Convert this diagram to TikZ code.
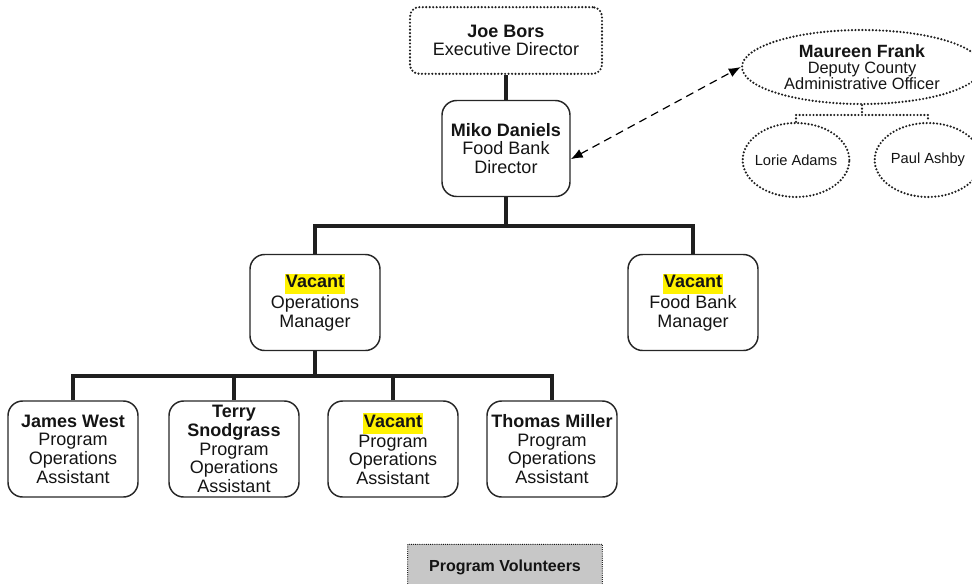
\documentclass[tikz,border=0pt]{standalone}
\usepackage{fontspec}
\setmainfont{Liberation Sans}
\usetikzlibrary{arrows.meta,shapes.geometric}
\newcommand\vacantmark{{\setlength{\fboxsep}{0.6pt}\colorbox{yellow}{\strut\textbf{Vacant}}}}
\begin{document}
\begin{tikzpicture}[x=0.75pt,y=-0.75pt,
  every node/.style={font=\fontsize{13.5}{14}\selectfont, align=center, text=black!92},
  card/.style={draw=black!85, line width=1.1pt, rounded corners=11pt,
    minimum width=97.5pt, minimum height=72pt, inner sep=0pt},
  dotline/.style={line width=1.8pt, dash pattern=on 0pt off 2.6pt, line cap=round, draw=black!88},
  dotbox/.style={draw, dotline, rounded corners=7pt, inner sep=0pt},
  dotellipse/.style={draw, dotline, ellipse, inner sep=0pt},
  bus/.style={line width=3pt, draw=black!88},
  liaison/.style={line width=0.9pt, dash pattern=on 6pt off 4pt,
    {Latex[length=9pt,width=7pt]}-{Latex[length=9pt,width=7pt]}},
  volbox/.style={draw, fill=black!22, line width=0.9pt, dash pattern=on 0pt off 1.6pt,
    line cap=round, minimum width=146pt, minimum height=34pt, inner sep=0pt}
]
\useasboundingbox (0,0) rectangle (972,583);
\clip (0,0) rectangle (972,583);

% executive level
\node[dotbox, minimum width=144pt, minimum height=50pt] (joe) at (506,40.5)
  {\textbf{Joe Bors}\\Executive Director};
\node[card, minimum width=96pt] (miko) at (506,148.5)
  {\textbf{Miko Daniels}\\Food Bank\\Director};

% county liaison
\node[dotellipse, minimum width=180pt, minimum height=55.5pt,
  font=\fontsize{12.3}{11.8}\selectfont] (maureen) at (862,67)
  {{\fontsize{13.3}{11.8}\selectfont\bfseries Maureen Frank}\\
   Deputy County\\Administrative Officer};
\node[dotellipse, minimum width=80pt, minimum height=55.5pt,
  font=\fontsize{11}{12}\selectfont] (lorie) at (796,160) {\makebox[50pt]{Lorie Adams}};
\node[dotellipse, minimum width=80pt, minimum height=55.5pt,
  font=\fontsize{11}{12}\selectfont] (paul) at (928,160) {\makebox[50pt]{Paul Ashby}};

% managers
\node[card] (opsmgr) at (315,302.5) {\vacantmark\\Operations\\Manager};
\node[card] (fbmgr) at (693,302.5) {\vacantmark\\Food Bank\\Manager};

% program operations assistants
\node[card] (james) at (73,449) {\textbf{James West}\\Program\\Operations\\Assistant};
\node[card] (terry) at (234,449) {\textbf{Terry}\\\textbf{Snodgrass}\\Program\\Operations\\Assistant};
\node[card] (vacant) at (393,449) {\vacantmark\\Program\\Operations\\Assistant};
\node[card] (thomas) at (552,449) {\textbf{Thomas Miller}\\Program\\Operations\\Assistant};

% volunteers
\node[volbox, font=\fontsize{12}{12}\selectfont\bfseries] (vol) at (505,567) {Program Volunteers};

% reporting lines
\coordinate (b1) at (506,226);
\coordinate (b2) at (315,376);
\coordinate (b3) at (862,115);
\draw[bus] (joe.south) -- (miko.north);
\draw[bus] (miko.south) -- (b1);
\draw[bus] (opsmgr.north) |- (b1) -| (fbmgr.north);
\draw[bus] (opsmgr.south) -- (b2);
\draw[bus] (james.north) |- (b2) -| (thomas.north);
\draw[bus] (terry.north) -- (terry.north |- b2);
\draw[bus] (vacant.north) -- (vacant.north |- b2);

% county staff
\draw[dotline] (maureen.south) -- (b3);
\draw[dotline] (lorie.north) |- (b3) -| (paul.north);

% liaison between director and county
\coordinate (mikoside) at ([yshift=-8pt]miko.east);
\draw[liaison] (mikoside) -- (maureen.west);
\end{tikzpicture}
\end{document}
